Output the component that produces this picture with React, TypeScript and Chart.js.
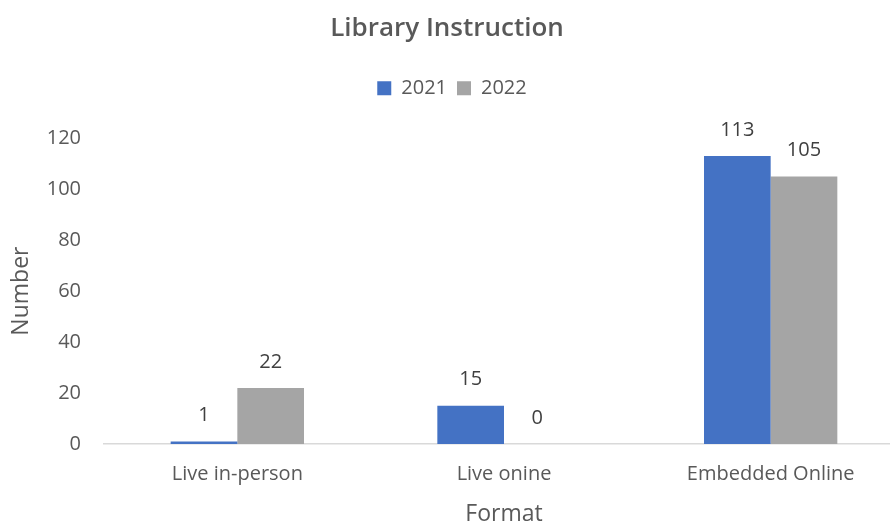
import React, { useEffect, useRef } from "react";
import { Chart, registerables } from "chart.js";

Chart.register(...registerables);

const categories = ["Live in-person", "Live onine", "Embedded Online"];
const series2021 = [1, 15, 113];
const series2022 = [22, 0, 105];
const seriesNames = ["2021", "2022"];
const yTicks = [0, 20, 40, 60, 80, 100, 120];
const chartTitle = "Library Instruction";
const xTitle = "Format";
const yTitle = "Number";

const FONT = "'Open Sans', 'Noto Sans', sans-serif";
const TEXT = "#595959";

const dataLabelPlugin = {
  id: "dataLabels",
  afterDatasetsDraw(chart: any) {
    const ctx = chart.ctx;
    ctx.save();
    ctx.font = `20px ${FONT}`;
    ctx.fillStyle = "#404040";
    ctx.textAlign = "center";
    ctx.textBaseline = "middle";
    chart.data.datasets.forEach((ds: any, i: number) => {
      const meta = chart.getDatasetMeta(i);
      meta.data.forEach((bar: any, j: number) => {
        ctx.fillText(String(ds.data[j]), bar.x, bar.y - 26);
      });
    });
    ctx.restore();
  },
};

const TITLE_PAD_TOP = 13;
const titlePlugin = {
  id: "customTitle",
  afterDraw(chart: any) {
    const tb = chart.titleBlock;
    if (!tb) return;
    const ctx = chart.ctx;
    ctx.save();
    ctx.font = `600 26px ${FONT}`;
    ctx.fillStyle = TEXT;
    ctx.textAlign = "center";
    ctx.textBaseline = "middle";
    ctx.fillText(chartTitle, 447, tb.top + TITLE_PAD_TOP + 15.6);
    ctx.restore();
  },
};

// adds some room between the legend and the plot area
const legendSpacer = {
  id: "legendSpacer",
  beforeLayout(chart: any) {
    const lg = chart.legend;
    if (lg && !lg._spacerPatched) {
      const orig = lg.fit;
      lg.fit = function () {
        orig.call(this);
        this.height += 30;
      };
      lg._spacerPatched = true;
    }
  },
};

export default function App() {
  const ref = useRef<HTMLCanvasElement>(null);
  useEffect(() => {
    if (!ref.current) return;
    const chart = new Chart(ref.current, {
      type: "bar",
      data: {
        labels: categories,
        datasets: [
          {
            label: seriesNames[0],
            data: series2021,
            backgroundColor: "#4472C4",
            categoryPercentage: 0.5,
            barPercentage: 1.0,
          },
          {
            label: seriesNames[1],
            data: series2022,
            backgroundColor: "#A5A5A5",
            categoryPercentage: 0.5,
            barPercentage: 1.0,
          },
        ],
      },
      options: {
        responsive: false,
        animation: false,
        layout: { padding: { top: 0, bottom: 0, left: 0, right: 0 } },
        plugins: {
          title: {
            display: true,
            text: chartTitle,
            color: "rgba(0,0,0,0)",
            font: { family: FONT, size: 26, weight: "600" },
            padding: { top: TITLE_PAD_TOP, bottom: 24 },
          },
          legend: {
            display: true,
            position: "top",
            labels: {
              color: TEXT,
              font: { family: FONT, size: 20 },
              boxWidth: 14,
              boxHeight: 14,
              padding: 10,
            },
          },
          tooltip: { enabled: false },
        },
        scales: {
          x: {
            afterFit(axis: any) {
              axis.height = 81;
            },
            grid: { display: false },
            border: { display: true, color: "#D9D9D9", width: 1.5 },
            ticks: { color: TEXT, font: { family: FONT, size: 20 }, padding: 10 },
            title: {
              display: true,
              text: xTitle,
              color: TEXT,
              font: { family: FONT, size: 23 },
              padding: { top: 0, bottom: -3 },
            },
          },
          y: {
            min: 0,
            max: 120,
            afterBuildTicks(axis: any) {
              axis.ticks = yTicks.map((v) => ({ value: v }));
            },
            afterFit(axis: any) {
              axis.width = 104;
            },
            grid: { display: false },
            border: { display: false },
            ticks: { color: TEXT, font: { family: FONT, size: 20 }, padding: 15 },
            title: {
              display: true,
              text: yTitle,
              color: TEXT,
              font: { family: FONT, size: 23 },
              padding: { top: 8, bottom: 0 },
            },
          },
        },
      },
      plugins: [dataLabelPlugin, titlePlugin, legendSpacer],
    });
    return () => chart.destroy();
  }, []);
  return (
    <div style={{ position: "fixed", left: 0, top: 0, width: 890, height: 525, overflow: "hidden", background: "#fff" }}>
      <canvas ref={ref} width={904} height={525} style={{ display: "block" }} />
    </div>
  );
}
